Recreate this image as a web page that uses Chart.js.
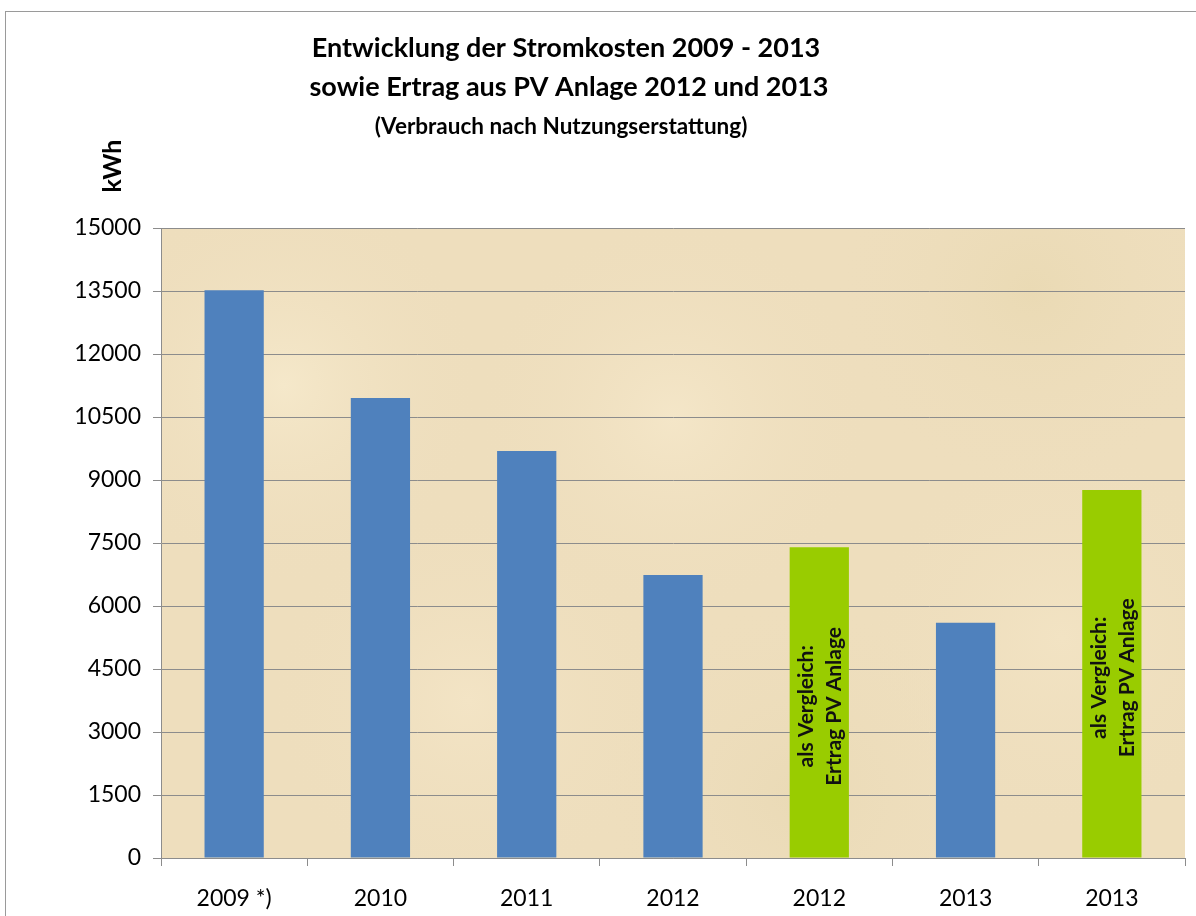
<!DOCTYPE html>
<html>
<head>
<meta charset="utf-8">
<script src="https://cdn.jsdelivr.net/npm/chart.js@4"></script>
<style>
  html, body { margin: 0; padding: 0; background: #fff; }
  #wrap { position: relative; width: 1196px; height: 916px; }
  #frame { position: absolute; left: 5px; top: 11px; width: 1300px; height: 1000px; border: 1px solid #9a9a9a; box-sizing: border-box; }
</style>
</head>
<body>
<div id="wrap">
  <div id="frame"></div>
  <canvas id="chart" width="1196" height="916"></canvas>
</div>
<script>
// Daten
const categories = ['2009 *)', '2010', '2011', '2012', '2012', '2013', '2013'];
const kwhValues = [13520, 10950, 9690, 6740, 7400, 5600, 8760];
const isPV = [false, false, false, false, true, false, true];
const yTicks = [0, 1500, 3000, 4500, 6000, 7500, 9000, 10500, 12000, 13500, 15000];
const titleLines = ['Entwicklung der Stromkosten 2009 - 2013', 'sowie Ertrag aus PV Anlage 2012 und 2013'];
const subTitle = '(Verbrauch nach Nutzungserstattung)';
const yUnit = 'kWh';
const pvLabel = ['als Vergleich:', 'Ertrag PV Anlage'];

const BLUE = '#4f81bd';
const GREEN = '#99cc00';
const FONT = 'Lato, "Open Sans", sans-serif';

// Hintergrund der Zeichenfläche (Pergament-Optik)
const parchment = {
  id: 'parchment',
  beforeDraw(chart) {
    const { ctx, chartArea: a } = chart;
    const w = a.right - a.left, h = a.bottom - a.top;
    ctx.save();
    ctx.fillStyle = '#eedebd';
    ctx.fillRect(a.left, a.top, w, h);
    const spots = [[0.12, 0.25, '#f5e8ca'], [0.5, 0.3, '#f4e6c8'], [0.85, 0.1, '#eadab4'],
                   [0.3, 0.75, '#f3e4c5'], [0.88, 0.65, '#f2e3c3'], [0.62, 0.9, '#eadab6']];
    spots.forEach(([fx, fy, c]) => {
      const x = a.left + fx * w, y = a.top + fy * h;
      const g = ctx.createRadialGradient(x, y, 0, x, y, 200);
      g.addColorStop(0, c);
      g.addColorStop(1, 'rgba(238,222,189,0)');
      ctx.fillStyle = g;
      ctx.fillRect(a.left, a.top, w, h);
    });
    ctx.restore();
  }
};

// Titel, Einheit und Beschriftung in den PV-Balken
const extras = {
  id: 'extras',
  afterDraw(chart) {
    const { ctx } = chart;
    ctx.save();
    ctx.fillStyle = '#000';
    ctx.textAlign = 'center';
    ctx.textBaseline = 'middle';
    ctx.font = 'bold 27px ' + FONT;
    ctx.fillText(titleLines[0], 566, 48);
    ctx.fillText(titleLines[1], 569, 87);
    ctx.font = 'bold 22.5px ' + FONT;
    ctx.fillText(subTitle, 561, 127);

    ctx.translate(113, 166);
    ctx.rotate(-Math.PI / 2);
    ctx.font = 'bold 25px ' + FONT;
    ctx.fillText(yUnit, 0, 0);
    ctx.restore();

    const meta = chart.getDatasetMeta(0);
    meta.data.forEach((bar, i) => {
      if (!isPV[i]) return;
      const cy = (bar.y + bar.base) / 2 + 4;
      ctx.save();
      ctx.fillStyle = '#111';
      ctx.font = 'bold 21px ' + FONT;
      ctx.textAlign = 'center';
      ctx.textBaseline = 'middle';
      ctx.translate(bar.x, cy);
      ctx.rotate(-Math.PI / 2);
      ctx.fillText(pvLabel[0], 0, -13);
      ctx.fillText(pvLabel[1], 0, 15);
      ctx.restore();
    });
  }
};

new Chart(document.getElementById('chart'), {
  type: 'bar',
  data: {
    labels: categories,
    datasets: [{
      data: kwhValues,
      backgroundColor: isPV.map(p => p ? GREEN : BLUE),
      borderWidth: 0,
      categoryPercentage: 1,
      barPercentage: 0.405
    }]
  },
  options: {
    responsive: false,
    animation: false,
    devicePixelRatio: 1,
    layout: { padding: { left: 0, right: 11, top: 228, bottom: 0 } },
    plugins: {
      legend: { display: false },
      tooltip: { enabled: false },
      title: { display: false }
    },
    scales: {
      x: {
        grid: { display: true, drawOnChartArea: false, offset: true, color: '#8c8c8c', tickLength: 8 },
        border: { color: '#8c8c8c' },
        ticks: { color: '#000', font: { family: FONT, size: 23 }, padding: 19 },
        afterFit(scale) { scale.height = 58; }
      },
      y: {
        min: 0,
        max: 15000,
        afterBuildTicks(scale) { scale.ticks = yTicks.map(v => ({ value: v })); },
        grid: { color: '#8c8c8c', tickLength: 8 },
        border: { color: '#8c8c8c' },
        ticks: { color: '#000', font: { family: FONT, size: 23 }, padding: 12, callback: v => String(v) },
        afterFit(scale) { scale.width = 161; }
      }
    }
  },
  plugins: [parchment, extras]
});
</script>
</body>
</html>
